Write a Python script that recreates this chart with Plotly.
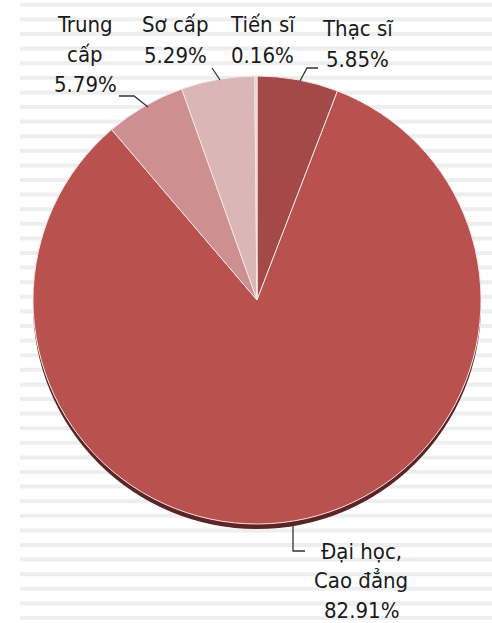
import plotly.graph_objects as go

W, H = 492, 623

categories = ["Thạc sĩ", "Đại học, Cao đẳng", "Trung cấp", "Sơ cấp", "Tiến sĩ"]
values = [5.85, 82.91, 5.79, 5.29, 0.16]
colors = ["#A34A49", "#B9524F", "#CD8F8F", "#DAB6B6", "#E6CACA"]
label_lines = {
    "Thạc sĩ": ["Thạc sĩ", "5.85%"],
    "Đại học, Cao đẳng": ["Đại học,", "Cao đẳng", "82.91%"],
    "Trung cấp": ["Trung", "cấp", "5.79%"],
    "Sơ cấp": ["Sơ cấp", "5.29%"],
    "Tiến sĩ": ["Tiến sĩ", "0.16%"],
}

def px(x):
    return x / W

def py(y):
    return 1 - y / H

# pie geometry (pixels)
cx, cy, r = 257, 300, 224

fig = go.Figure()

# dark rim / shadow underneath (3D look)
fig.add_trace(go.Pie(
    values=[sum(values)], marker=dict(colors=["#5C2424"], line=dict(width=0)),
    textinfo="none", hoverinfo="skip", sort=False, showlegend=False,
    domain=dict(x=[px(cx - r), px(cx + r)], y=[py(cy + r + 5), py(cy - r + 5)]),
))

fig.add_trace(go.Pie(
    labels=categories, values=values, sort=False, direction="clockwise", rotation=0,
    marker=dict(colors=colors, line=dict(color="#F4E6E6", width=1)),
    textinfo="none", showlegend=False,
    domain=dict(x=[px(cx - r), px(cx + r)], y=[py(cy + r), py(cy - r)]),
))

# background stripes
shapes = []
ys = []
y = 545.0
while y > 0:
    ys.append(y)
    y -= 14.6
y = 545.0 + 14.6
while y < H + 5:
    ys.append(y)
    y += 14.6
for yy in ys:
    shapes.append(dict(type="rect", xref="paper", yref="paper", layer="below",
                       x0=px(20), x1=1, y0=py(yy + 2), y1=py(yy - 2),
                       fillcolor="#EEEEEE", line=dict(width=0)))

# leader lines
leaders = [
    [(300, 81), (307, 68), (318, 68)],          # Thạc sĩ
    [(293, 524), (293, 551), (305, 551)],       # Đại học
    [(148, 107), (134, 96), (119, 96)],         # Trung cấp
    [(220, 80), (212, 68)],                     # Sơ cấp
]
for pts in leaders:
    path = "M " + " L ".join(f"{px(a)},{py(b)}" for a, b in pts)
    shapes.append(dict(type="path", xref="paper", yref="paper", path=path,
                       line=dict(color="#333333", width=1.3)))

# label positions (centre x, first-line centre y, line gap)
label_pos = {
    "Thạc sĩ": (357, 29, 31),
    "Đại học, Cao đẳng": (361, 551, 29.5),
    "Trung cấp": (85, 24, 30),
    "Sơ cấp": (175, 24, 31),
    "Tiến sĩ": (262, 24, 31),
}
annotations = []
font = dict(family="DejaVu Sans Condensed, DejaVu Sans", size=22, color="#1A1A1A")
for cat, lines in label_lines.items():
    x0, y0, gap = label_pos[cat]
    for i, t in enumerate(lines):
        annotations.append(dict(text=t, x=px(x0), y=py(y0 + i * gap), xref="paper", yref="paper",
                                xanchor="center", yanchor="middle", showarrow=False, font=font))

fig.update_layout(
    width=W, height=H, margin=dict(l=0, r=0, t=0, b=0),
    paper_bgcolor="white", plot_bgcolor="white",
    shapes=shapes, annotations=annotations,
)

fig.write_html("out.html", config={"displayModeBar": False},
               post_script="document.body.style.margin='0';document.body.style.overflow='hidden';")
